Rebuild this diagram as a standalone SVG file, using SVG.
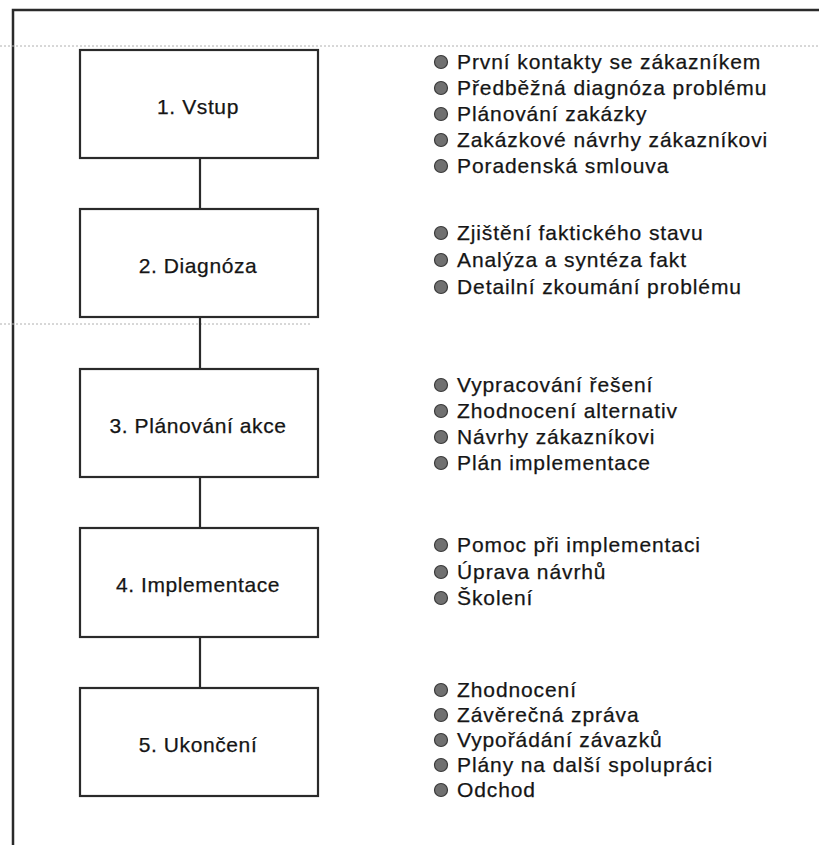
<svg xmlns="http://www.w3.org/2000/svg" width="819" height="845" viewBox="0 0 819 845">
<style>
.frame{fill:none;stroke:#2a2a2a;stroke-width:2.5}
.box{fill:#fff;stroke:#2a2a2a;stroke-width:2.2}
.conn{stroke:#2a2a2a;stroke-width:2.2;fill:none}
.scan{stroke:#b0b0b0;stroke-width:1;stroke-dasharray:2 2;fill:none}
.lbl{font-family:"Liberation Sans",Arial,sans-serif;font-size:21px;letter-spacing:0.6px;fill:#151515;stroke:#151515;stroke-width:0.25;text-anchor:middle}
.item{font-family:"Liberation Sans",Arial,sans-serif;font-size:21px;letter-spacing:0.9px;fill:#151515;stroke:#151515;stroke-width:0.25}
.dot{fill:#707070;stroke:#3a3a3a;stroke-width:1.2}
</style>
<rect width="819" height="845" fill="#fff"/>
<g id="frame">
<path class="frame" d="M13 845 V10 H819"/>
<path class="scan" d="M0 46 H819"/>
<path class="scan" d="M0 324 H310"/>
</g>
<g id="connectors">
<line class="conn" x1="200" y1="158" x2="200" y2="209"/>
<line class="conn" x1="200" y1="317" x2="200" y2="369"/>
<line class="conn" x1="200" y1="477" x2="200" y2="528"/>
<line class="conn" x1="200" y1="637" x2="200" y2="688"/>
</g>
<g id="node1">
<rect class="box" x="80" y="50" width="238" height="108"/>
<text class="lbl" x="198" y="114">1. Vstup</text>
</g>
<g id="node2">
<rect class="box" x="80" y="209" width="238" height="108"/>
<text class="lbl" x="198" y="273">2. Diagnóza</text>
</g>
<g id="node3">
<rect class="box" x="80" y="369" width="238" height="108"/>
<text class="lbl" x="198" y="433">3. Plánování akce</text>
</g>
<g id="node4">
<rect class="box" x="80" y="528" width="238" height="109"/>
<text class="lbl" x="198" y="592">4. Implementace</text>
</g>
<g id="node5">
<rect class="box" x="80" y="688" width="238" height="108"/>
<text class="lbl" x="198" y="752">5. Ukončení</text>
</g>
<g id="list1">
<circle class="dot" cx="441" cy="62" r="6.5"/><text class="item" x="457" y="69">První kontakty se zákazníkem</text>
<circle class="dot" cx="441" cy="88" r="6.5"/><text class="item" x="457" y="95">Předběžná diagnóza problému</text>
<circle class="dot" cx="441" cy="114" r="6.5"/><text class="item" x="457" y="121">Plánování zakázky</text>
<circle class="dot" cx="441" cy="140" r="6.5"/><text class="item" x="457" y="147">Zakázkové návrhy zákazníkovi</text>
<circle class="dot" cx="441" cy="166" r="6.5"/><text class="item" x="457" y="173">Poradenská smlouva</text>
</g>
<g id="list2">
<circle class="dot" cx="441" cy="233" r="6.5"/><text class="item" x="457" y="240">Zjištění faktického stavu</text>
<circle class="dot" cx="441" cy="260" r="6.5"/><text class="item" x="457" y="267">Analýza a syntéza fakt</text>
<circle class="dot" cx="441" cy="287" r="6.5"/><text class="item" x="457" y="294">Detailní zkoumání problému</text>
</g>
<g id="list3">
<circle class="dot" cx="441" cy="385" r="6.5"/><text class="item" x="457" y="392">Vypracování řešení</text>
<circle class="dot" cx="441" cy="411" r="6.5"/><text class="item" x="457" y="418">Zhodnocení alternativ</text>
<circle class="dot" cx="441" cy="437" r="6.5"/><text class="item" x="457" y="444">Návrhy zákazníkovi</text>
<circle class="dot" cx="441" cy="463" r="6.5"/><text class="item" x="457" y="470">Plán implementace</text>
</g>
<g id="list4">
<circle class="dot" cx="441" cy="545" r="6.5"/><text class="item" x="457" y="552">Pomoc při implementaci</text>
<circle class="dot" cx="441" cy="572" r="6.5"/><text class="item" x="457" y="579">Úprava návrhů</text>
<circle class="dot" cx="441" cy="598" r="6.5"/><text class="item" x="457" y="605">Školení</text>
</g>
<g id="list5">
<circle class="dot" cx="441" cy="690" r="6.5"/><text class="item" x="457" y="697">Zhodnocení</text>
<circle class="dot" cx="441" cy="715" r="6.5"/><text class="item" x="457" y="722">Závěrečná zpráva</text>
<circle class="dot" cx="441" cy="740" r="6.5"/><text class="item" x="457" y="747">Vypořádání závazků</text>
<circle class="dot" cx="441" cy="765" r="6.5"/><text class="item" x="457" y="772">Plány na další spolupráci</text>
<circle class="dot" cx="441" cy="790" r="6.5"/><text class="item" x="457" y="797">Odchod</text>
</g>
</svg>
